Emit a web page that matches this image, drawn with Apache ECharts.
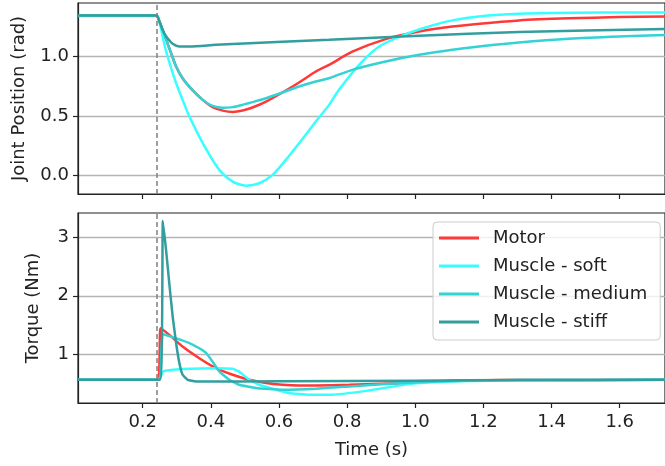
<!DOCTYPE html>
<html>
<head>
<meta charset="utf-8">
<script src="https://cdn.jsdelivr.net/npm/echarts@6/dist/echarts.min.js"></script>
<style>
  html, body { margin: 0; padding: 0; background: #fff; }
  #chart { width: 665px; height: 466px; }
</style>
</head>
<body>
<div id="chart"></div>
<script>
// --- datos: [tiempo (s), valor] ---
const seriesNames = ["Motor", "Muscle - soft", "Muscle - medium", "Muscle - stiff"];
const colors = ["#ff3838", "#38ffff", "#33d2d4", "#339e9e"];
const xTicks = [0.2, 0.4, 0.6, 0.8, 1.0, 1.2, 1.4, 1.6];
const posTicks = [0.0, 0.5, 1.0];
const torqueTicks = [1, 2, 3];
const stepTime = 0.24;

// posicion articular (rad)
const posMotor = [
  [0.01, 1.345], [0.24, 1.345], [0.249, 1.294], [0.269, 1.14], [0.283, 1.03],
  [0.298, 0.916], [0.317, 0.818], [0.347, 0.715], [0.376, 0.636], [0.405, 0.575],
  [0.435, 0.546], [0.464, 0.535], [0.493, 0.546], [0.522, 0.572], [0.562, 0.622],
  [0.61, 0.698], [0.659, 0.782], [0.708, 0.874], [0.747, 0.93], [0.815, 1.04],
  [0.913, 1.146], [1.011, 1.21], [1.109, 1.252], [1.206, 1.28], [1.304, 1.303],
  [1.45, 1.32], [1.597, 1.331], [1.733, 1.336]
];
const posSoft = [
  [0.01, 1.34], [0.24, 1.34], [0.249, 1.29], [0.262, 1.12], [0.273, 1.0],
  [0.298, 0.776], [0.317, 0.636], [0.337, 0.496], [0.366, 0.328], [0.396, 0.174],
  [0.425, 0.048], [0.464, -0.05], [0.503, -0.084], [0.542, -0.064], [0.581, 0.006],
  [0.62, 0.132], [0.659, 0.272], [0.708, 0.454], [0.747, 0.594], [0.776, 0.72],
  [0.835, 0.93], [0.894, 1.084], [0.967, 1.182], [1.04, 1.252], [1.109, 1.303],
  [1.206, 1.342], [1.304, 1.359], [1.402, 1.365], [1.548, 1.37], [1.733, 1.37]
];
const posMedium = [
  [0.01, 1.345], [0.24, 1.345], [0.249, 1.294], [0.269, 1.14], [0.283, 1.03],
  [0.298, 0.916], [0.317, 0.818], [0.347, 0.715], [0.376, 0.636], [0.405, 0.585],
  [0.435, 0.569], [0.464, 0.575], [0.493, 0.594], [0.522, 0.617], [0.562, 0.65],
  [0.61, 0.698], [0.659, 0.748], [0.708, 0.79], [0.747, 0.818], [0.815, 0.888],
  [0.913, 0.958], [1.011, 1.014], [1.109, 1.056], [1.206, 1.09], [1.304, 1.118],
  [1.45, 1.149], [1.597, 1.168], [1.733, 1.18]
];
const posStiff = [
  [0.01, 1.345], [0.24, 1.345], [0.249, 1.294], [0.259, 1.22], [0.269, 1.168],
  [0.288, 1.107], [0.3075, 1.084], [0.337, 1.084], [0.415, 1.098], [0.513, 1.112],
  [0.61, 1.124], [0.747, 1.14], [1.011, 1.174], [1.304, 1.205], [1.733, 1.23]
];

// torque (Nm)
const torMotor = [
  [0.01, 0.56], [0.243, 0.56], [0.252, 1.444], [0.278, 1.33], [0.317, 1.13],
  [0.366, 0.93], [0.415, 0.76], [0.464, 0.646], [0.513, 0.56], [0.562, 0.504],
  [0.61, 0.475], [0.659, 0.463], [0.708, 0.463], [0.806, 0.475], [0.952, 0.5],
  [1.1, 0.54], [1.25, 0.555], [1.733, 0.56]
];
const torSoft = [
  [0.01, 0.56], [0.245, 0.56], [0.252, 0.6], [0.258, 0.69], [0.265, 0.715],
  [0.317, 0.744], [0.415, 0.76], [0.464, 0.75], [0.483, 0.7], [0.513, 0.56],
  [0.542, 0.475], [0.581, 0.407], [0.63, 0.333], [0.688, 0.304], [0.757, 0.304],
  [0.855, 0.37], [0.952, 0.46], [1.011, 0.504], [1.109, 0.53], [1.206, 0.545],
  [1.4, 0.556], [1.733, 0.56]
];
const torMedium = [
  [0.01, 0.56], [0.245, 0.56], [0.252, 0.62], [0.259, 1.34], [0.298, 1.27],
  [0.337, 1.19], [0.366, 1.1], [0.386, 1.02], [0.405, 0.87], [0.425, 0.7],
  [0.454, 0.56], [0.483, 0.475], [0.532, 0.42], [0.61, 0.39], [0.708, 0.407],
  [0.806, 0.446], [0.952, 0.5], [1.1, 0.54], [1.3, 0.556], [1.733, 0.56]
];
const torStiff = [
  [0.01, 0.56], [0.251, 0.56], [0.259, 3.284], [0.2686, 2.78], [0.278, 2.21],
  [0.288, 1.64], [0.298, 1.19], [0.3075, 0.846], [0.317, 0.646], [0.332, 0.56],
  [0.356, 0.53], [0.6, 0.535], [1.0, 0.545], [1.3, 0.556], [1.733, 0.56]
];

const FONT = "DejaVu Sans";
const chart = echarts.init(document.getElementById("chart"));

function ejeX(gridIndex, conEtiquetas) {
  return {
    type: "value", gridIndex: gridIndex, min: 0.01, max: 1.733,
    axisLine: { show: true, onZero: false, lineStyle: { color: "#222", width: 1.2 } },
    axisTick: { show: true, length: 5, customValues: xTicks, lineStyle: { color: "#222", width: 1.2 } },
    axisLabel: {
      show: conEtiquetas, customValues: xTicks, margin: 10,
      color: "#222", fontFamily: FONT, fontSize: 18,
      formatter: (v) => v.toFixed(1)
    },
    splitLine: { show: false },
    name: conEtiquetas ? "Time (s)" : "", nameLocation: "middle", nameGap: 38,
    nameTextStyle: { color: "#222", fontFamily: FONT, fontSize: 18 }
  };
}

function ejeY(gridIndex, min, max, ticks, nombre, gap, fmt) {
  return {
    type: "value", gridIndex: gridIndex, min: min, max: max,
    axisLine: { show: true, onZero: false, lineStyle: { color: "#222", width: 1.2 } },
    axisTick: { show: true, length: 5, customValues: ticks, lineStyle: { color: "#222", width: 1.2 } },
    axisLabel: { customValues: ticks, margin: 9, color: "#222", fontFamily: FONT, fontSize: 18, formatter: fmt },
    splitLine: { show: true, lineStyle: { color: "#b4b4b4", width: 1.3 } },
    name: nombre, nameLocation: "middle", nameGap: gap,
    nameTextStyle: { color: "#222", fontFamily: FONT, fontSize: 18 }
  };
}

function linea(nombre, datos, color, idx, suave) {
  return {
    name: nombre, type: "line", data: datos,
    xAxisIndex: idx, yAxisIndex: idx,
    showSymbol: false, symbol: "none",
    smooth: suave,
    lineStyle: { color: color, width: 2.5 },
    itemStyle: { color: color },
    z: 3
  };
}

function lineaCorte(idx) {
  return {
    type: "line", data: [], xAxisIndex: idx, yAxisIndex: idx, z: 2,
    markLine: {
      silent: true, symbol: "none", label: { show: false },
      lineStyle: { color: "#808080", type: [5, 3], width: 1.5 },
      data: [{ xAxis: stepTime }]
    }
  };
}

const posData = [posMotor, posSoft, posMedium, posStiff];
const torData = [torMotor, torSoft, torMedium, torStiff];

const series = [lineaCorte(0), lineaCorte(1)];
posData.forEach((d, i) => series.push(linea(seriesNames[i], d, colors[i], 0, 0.25)));
torData.forEach((d, i) => series.push(linea(seriesNames[i], d, colors[i], 1, 0.12)));

// marco como en matplotlib (el borde derecho queda fuera del lienzo)
const marco = { show: true, borderColor: "#222", borderWidth: 1.2, backgroundColor: "transparent" };

chart.setOption({
  animation: false,
  backgroundColor: "#fff",
  grid: [
    Object.assign({ left: 78, top: 3, width: 588, height: 191 }, marco),
    Object.assign({ left: 78, top: 213, width: 588, height: 190 }, marco)
  ],
  xAxis: [ejeX(0, false), ejeX(1, true)],
  yAxis: [
    ejeY(0, -0.154, 1.449, posTicks, "Joint Position (rad)", 50, (v) => v.toFixed(1)),
    ejeY(1, 0.162, 3.42, torqueTicks, "Torque (Nm)", 36, (v) => String(v))
  ],
  legend: {
    data: seriesNames,
    orient: "vertical", left: 433, top: 222,
    icon: "rect", itemWidth: 40, itemHeight: 3, itemGap: 8,
    padding: [6, 13, 8, 6],
    backgroundColor: "rgba(255,255,255,0.8)",
    borderColor: "#cccccc", borderWidth: 1, borderRadius: 4,
    textStyle: { color: "#222", fontFamily: FONT, fontSize: 18, lineHeight: 20, padding: [0, 0, 0, 9] }
  },
  series: series
});
</script>
</body>
</html>
